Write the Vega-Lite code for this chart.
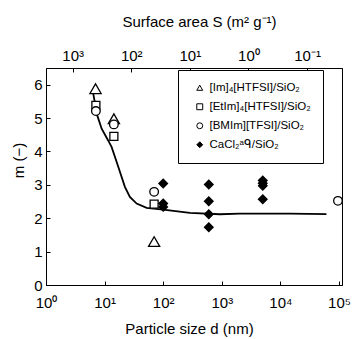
{
  "$schema": "https://vega.github.io/schema/vega-lite/v6.json",
  "width": 296,
  "height": 217,
  "autosize": {"type": "none"},
  "padding": {"left": 46, "top": 68, "right": 10, "bottom": 54},
  "background": "white",
  "config": {
    "font": "Liberation Sans",
    "view": {"stroke": "black", "strokeWidth": 1},
    "axis": {
      "grid": false,
      "domainColor": "black",
      "tickColor": "black",
      "labelColor": "black",
      "titleColor": "black",
      "labelFontSize": 15,
      "titleFontSize": 15,
      "titleFontWeight": "normal",
      "tickSize": -4,
      "domainWidth": 1,
      "tickWidth": 1,
      "labelOverlap": false
    }
  },
  "datasets": {
    "curve": [
      {"d": 6.01, "m": 5.83},
      {"d": 6.4, "m": 5.73},
      {"d": 7.49, "m": 5.08},
      {"d": 8.91, "m": 4.68},
      {"d": 11.5, "m": 4.33},
      {"d": 13.2, "m": 4.13},
      {"d": 17.1, "m": 3.54},
      {"d": 22.2, "m": 2.94},
      {"d": 27.0, "m": 2.64},
      {"d": 35.2, "m": 2.44},
      {"d": 52.1, "m": 2.31},
      {"d": 100, "m": 2.26},
      {"d": 285, "m": 2.16},
      {"d": 925, "m": 2.12},
      {"d": 2030, "m": 2.14},
      {"d": 14450, "m": 2.14},
      {"d": 61000, "m": 2.12}
    ],
    "pts": [
      {"d": 7.0, "m": 5.88, "series": "[Im]₄[HTFSI]/SiO₂"},
      {"d": 14.4, "m": 4.98, "series": "[Im]₄[HTFSI]/SiO₂"},
      {"d": 70, "m": 1.30, "series": "[Im]₄[HTFSI]/SiO₂"},
      {"d": 7.1, "m": 5.38, "series": "[EtIm]₄[HTFSI]/SiO₂"},
      {"d": 14.4, "m": 4.45, "series": "[EtIm]₄[HTFSI]/SiO₂"},
      {"d": 70, "m": 2.42, "series": "[EtIm]₄[HTFSI]/SiO₂"},
      {"d": 7.1, "m": 5.21, "series": "[BMIm][TFSI]/SiO₂"},
      {"d": 14.4, "m": 4.81, "series": "[BMIm][TFSI]/SiO₂"},
      {"d": 70, "m": 2.79, "series": "[BMIm][TFSI]/SiO₂"},
      {"d": 96000, "m": 2.52, "series": "[BMIm][TFSI]/SiO₂"},
      {"d": 100, "m": 3.04, "series": "CaCl₂ᵃᑫ/SiO₂"},
      {"d": 100, "m": 2.44, "series": "CaCl₂ᵃᑫ/SiO₂"},
      {"d": 100, "m": 2.34, "series": "CaCl₂ᵃᑫ/SiO₂"},
      {"d": 600, "m": 3.01, "series": "CaCl₂ᵃᑫ/SiO₂"},
      {"d": 600, "m": 2.51, "series": "CaCl₂ᵃᑫ/SiO₂"},
      {"d": 600, "m": 2.12, "series": "CaCl₂ᵃᑫ/SiO₂"},
      {"d": 600, "m": 1.73, "series": "CaCl₂ᵃᑫ/SiO₂"},
      {"d": 5000, "m": 3.13, "series": "CaCl₂ᵃᑫ/SiO₂"},
      {"d": 5000, "m": 3.05, "series": "CaCl₂ᵃᑫ/SiO₂"},
      {"d": 5000, "m": 2.97, "series": "CaCl₂ᵃᑫ/SiO₂"},
      {"d": 5000, "m": 2.57, "series": "CaCl₂ᵃᑫ/SiO₂"}
    ],
    "top": [{"S": 1}]
  },
  "layer": [
    {
      "layer": [
        {
          "data": {"name": "curve"},
          "mark": {"type": "line", "color": "black", "strokeWidth": 1.8},
          "encoding": {
            "x": {
              "field": "d", "type": "quantitative",
              "scale": {"type": "log", "domain": [1, 112500], "nice": false},
              "axis": {
                "values": [1, 10, 100, 1000, 10000, 100000],
                "labelExpr": "datum.value < 5 ? '10⁰' : datum.value < 50 ? '10¹' : datum.value < 500 ? '10²' : datum.value < 5000 ? '10³' : datum.value < 50000 ? '10⁴' : '10⁵'",
                "labelPadding": 14,
                "labelFlush": false,
                "title": "Particle size d (nm)",
                "titleX": 143,
                "titleY": 48,
                "titleBaseline": "alphabetic"
              }
            },
            "y": {
              "field": "m", "type": "quantitative",
              "scale": {"domain": [0, 6.5], "nice": false},
              "axis": {
                "values": [0, 1, 2, 3, 4, 5, 6],
                "tickCount": 7,
                "format": "d",
                "labelPadding": 8,
                "title": "m (−)",
                "titleX": -23,
                "titleY": 92,
                "titleBaseline": "alphabetic"
              }
            }
          }
        },
        {
          "data": {"name": "pts"},
          "mark": {"type": "point", "filled": true, "strokeWidth": 1.3, "opacity": 1},
          "encoding": {
            "x": {
              "field": "d", "type": "quantitative",
              "axis": {
                "values": [1, 10, 100, 1000, 10000, 100000],
                "labelExpr": "datum.value < 5 ? '10⁰' : datum.value < 50 ? '10¹' : datum.value < 500 ? '10²' : datum.value < 5000 ? '10³' : datum.value < 50000 ? '10⁴' : '10⁵'",
                "labelPadding": 14,
                "labelFlush": false,
                "title": "Particle size d (nm)",
                "titleX": 143,
                "titleY": 48,
                "titleBaseline": "alphabetic"
              }
            },
            "y": {
              "field": "m", "type": "quantitative",
              "axis": {
                "values": [0, 1, 2, 3, 4, 5, 6],
                "tickCount": 7,
                "format": "d",
                "labelPadding": 8,
                "title": "m (−)",
                "titleX": -23,
                "titleY": 92,
                "titleBaseline": "alphabetic"
              }
            },
            "shape": {
              "field": "series", "type": "nominal",
              "scale": {
                "domain": ["[Im]₄[HTFSI]/SiO₂", "[EtIm]₄[HTFSI]/SiO₂", "[BMIm][TFSI]/SiO₂", "CaCl₂ᵃᑫ/SiO₂"],
                "range": ["triangle-up", "square", "circle", "diamond"]
              },
              "legend": {
                "orient": "none",
                "legendX": 132,
                "legendY": 2,
                "title": null,
                "strokeColor": "black",
                "fillColor": "white",
                "padding": 12,
                "rowPadding": 6,
                "symbolOffset": 4,
                "symbolSize": 35,
                "symbolStrokeWidth": 1,
                "labelFontSize": 11.5,
                "labelColor": "black",
                "labelOffset": 4,
                "labelLimit": 400
              }
            },
            "fill": {
              "field": "series", "type": "nominal",
              "scale": {
                "domain": ["[Im]₄[HTFSI]/SiO₂", "[EtIm]₄[HTFSI]/SiO₂", "[BMIm][TFSI]/SiO₂", "CaCl₂ᵃᑫ/SiO₂"],
                "range": ["white", "white", "white", "black"]
              }
            },
            "stroke": {
              "field": "series", "type": "nominal",
              "scale": {
                "domain": ["[Im]₄[HTFSI]/SiO₂", "[EtIm]₄[HTFSI]/SiO₂", "[BMIm][TFSI]/SiO₂", "CaCl₂ᵃᑫ/SiO₂"],
                "range": ["black", "black", "black", "black"]
              }
            },
            "size": {
              "condition": [
                {"test": {"field": "series", "equal": "[Im]₄[HTFSI]/SiO₂"}, "value": 125},
                {"test": {"field": "series", "equal": "[EtIm]₄[HTFSI]/SiO₂"}, "value": 64}
              ],
              "value": 74
            }
          }
        }
      ]
    },
    {
      "data": {"name": "top"},
      "mark": {"type": "point", "opacity": 0},
      "encoding": {
        "x": {
          "field": "S", "type": "quantitative",
          "scale": {"type": "log", "domain": [0.02533, 2850], "reverse": true, "nice": false},
          "axis": {
            "orient": "top",
            "values": [0.1, 1, 10, 100, 1000],
            "labelExpr": "datum.value < 0.5 ? '10⁻¹' : datum.value < 5 ? '10⁰' : datum.value < 50 ? '10¹' : datum.value < 500 ? '10²' : '10³'",
            "labelPadding": 9,
            "labelFlush": false,
            "title": "Surface area S (m² g⁻¹)",
            "titleX": 153,
            "titleY": -42,
            "titleBaseline": "alphabetic"
          }
        }
      }
    }
  ],
  "resolve": {"scale": {"x": "independent"}, "axis": {"x": "independent"}}
}
